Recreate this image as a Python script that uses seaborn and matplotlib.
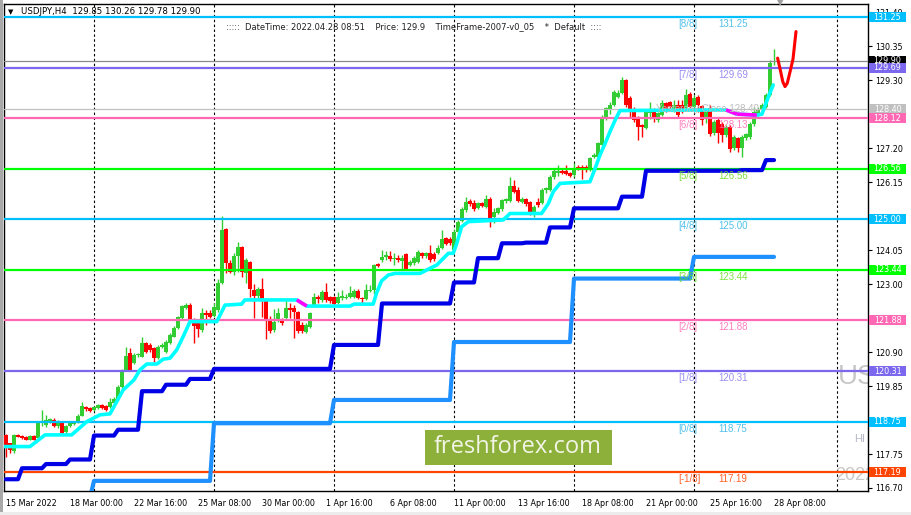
import numpy as np
import pandas as pd
import matplotlib
matplotlib.use("Agg")
import matplotlib.pyplot as plt
from matplotlib.patches import Rectangle
from matplotlib.transforms import blended_transform_factory
import seaborn as sns

# --- Chart data (USDJPY H4) ---
FIRST_BAR = "2022-03-15 08:00"
LAST_BAR = "2022-04-28 08:00"

opens = [
    118.34, 118.08, 117.83, 118.33, 118.31, 118.29, 118.19, 118.31, 118.24, 118.70,
    118.65, 118.75, 118.80, 118.60, 118.72, 118.44, 118.60, 118.68, 118.74, 118.93,
    119.20, 119.16, 119.11, 119.16, 119.26, 119.24, 119.20, 119.34, 119.44, 119.81,
    120.35, 120.86, 120.55, 120.80, 120.76, 121.17, 121.12, 121.02, 120.71, 121.05,
    120.91, 121.17, 121.38, 121.64, 121.94, 122.25, 122.36, 121.91, 121.84,
    121.58, 122.12, 122.12, 122.01, 122.20, 123.02, 124.69, 123.64, 123.38, 123.87,
    124.16, 123.33, 123.69, 122.82, 122.63, 122.84, 122.53, 121.89, 121.58, 121.87,
    121.89, 121.94, 122.25, 122.25, 122.15, 121.74, 121.53, 121.66, 122.35, 122.59,
    122.51, 122.77, 122.59, 122.59, 122.40, 122.56, 122.56, 122.59, 122.59, 122.79,
    122.56, 122.53, 122.79, 122.82, 123.62, 123.74, 123.85, 123.87, 123.76,
    123.82, 123.72, 123.93, 123.59, 123.64, 123.69, 123.97, 123.87, 123.95, 123.93,
    123.95, 124.10, 124.41, 124.38, 124.05, 124.62, 124.96, 125.29, 125.57, 125.51,
    125.34, 125.51, 125.37, 125.62, 125.06, 125.20, 125.31, 125.57, 125.57, 126.03,
    125.92, 125.54, 125.62, 125.54, 125.20, 125.54, 125.49, 125.90, 125.92, 126.30,
    126.42, 126.50, 126.50, 126.44, 126.37, 126.63, 126.63, 126.63, 126.52,
    126.94, 126.94, 127.30, 128.17, 128.38, 128.53, 128.77, 128.89, 129.30, 128.74,
    128.38, 128.15, 127.91, 127.81, 128.30, 128.38, 128.07, 128.22, 128.58, 128.63,
    128.38, 128.53, 128.53, 128.43, 128.87, 128.48, 128.77, 128.50, 128.12, 128.43,
    127.66, 128.07, 127.96, 127.61, 127.86, 127.19, 127.50, 127.19, 127.50, 127.55,
    127.94, 128.25, 128.38, 128.48, 128.84, 129.85,
]
highs = [
    118.37, 118.10, 118.37, 118.37, 118.34, 118.32, 118.34, 118.35, 118.72, 119.11,
    118.96, 118.86, 118.86, 118.80, 118.75, 118.65, 118.72, 118.77, 118.99, 119.37,
    119.24, 119.20, 119.24, 119.29, 119.29, 119.27, 119.47, 119.50, 119.89, 120.37,
    121.05, 121.02, 120.86, 120.86, 121.38, 121.22, 121.17, 121.05, 121.12, 121.17,
    121.28, 121.48, 121.71, 122.02, 122.36, 122.41, 122.43, 121.94, 121.89,
    122.25, 122.20, 122.20, 122.43, 123.15, 125.10, 124.72, 123.74, 123.97, 124.31,
    124.18, 123.79, 123.72, 123.00, 122.92, 123.18, 122.56, 122.01, 122.22, 122.25,
    121.94, 122.51, 122.40, 122.35, 122.18, 121.84, 121.79, 122.15, 122.71, 122.66,
    122.82, 123.02, 122.63, 122.63, 122.76, 122.82, 122.69, 122.94, 122.84, 122.84,
    122.61, 123.00, 122.97, 123.62, 123.66, 124.05, 124.03, 124.03, 123.97,
    123.90, 123.90, 123.97, 123.74, 123.87, 124.05, 124.00, 124.00, 124.21, 124.00,
    124.21, 124.67, 124.46, 124.44, 124.69, 124.98, 125.37, 125.70, 125.62, 125.60,
    125.54, 125.54, 125.75, 125.70, 125.34, 125.39, 125.62, 125.65, 126.32, 126.21,
    125.99, 125.70, 125.65, 125.57, 125.44, 125.65, 125.96, 126.01, 126.37, 126.54,
    126.68, 126.54, 126.68, 126.47, 126.75, 126.68, 126.68, 126.68, 126.93,
    127.04, 127.40, 128.22, 128.48, 128.63, 129.00, 129.00, 129.41, 129.32, 128.81,
    128.48, 128.19, 127.95, 128.36, 128.63, 128.43, 128.33, 128.69, 128.63, 128.67,
    128.69, 128.69, 128.69, 129.02, 128.94, 128.84, 128.84, 128.53, 128.40, 128.53,
    128.07, 128.17, 128.02, 127.91, 127.91, 127.61, 127.55, 127.61, 127.66, 128.02,
    128.48, 128.48, 128.58, 128.89, 129.92, 130.26,
]
lows = [
    117.67, 117.77, 117.79, 118.26, 118.21, 118.17, 118.17, 118.17, 118.22, 118.60,
    118.58, 118.70, 118.57, 118.55, 118.37, 118.41, 118.58, 118.65, 118.72, 118.91,
    119.09, 119.06, 119.09, 119.14, 119.13, 119.08, 119.16, 119.32, 119.42, 119.78,
    120.33, 120.30, 120.53, 120.76, 120.74, 120.88, 120.91, 120.58, 120.69, 121.02,
    120.88, 121.15, 121.36, 121.60, 121.91, 122.22, 121.84, 121.17, 121.38,
    121.53, 121.74, 121.94, 121.99, 122.15, 123.00, 123.35, 123.35, 123.28, 123.38,
    123.23, 123.04, 122.59, 121.94, 122.53, 121.97, 121.29, 121.48, 121.53, 121.84,
    121.74, 121.89, 121.94, 121.32, 121.48, 121.48, 121.50, 121.63, 122.30, 122.42,
    122.46, 122.46, 122.40, 122.35, 122.38, 122.51, 122.53, 122.56, 122.56, 122.53,
    122.40, 122.51, 122.76, 122.69, 123.52, 123.69, 123.74, 123.72, 123.59,
    123.69, 123.48, 123.45, 123.56, 123.59, 123.64, 123.82, 123.82, 123.69, 123.72,
    123.93, 124.07, 124.21, 124.21, 124.03, 124.57, 124.93, 125.23, 125.41, 125.27,
    125.31, 125.37, 125.34, 124.75, 124.90, 125.16, 125.27, 125.49, 125.54, 125.82,
    125.54, 125.49, 125.41, 125.13, 125.08, 125.37, 125.47, 125.82, 125.88, 126.26,
    126.34, 126.40, 126.37, 126.30, 126.32, 126.52, 126.26, 126.47, 126.50,
    126.88, 126.88, 127.27, 128.07, 128.25, 128.50, 128.74, 128.87, 128.48, 128.12,
    128.02, 127.45, 127.55, 127.78, 128.09, 128.02, 128.02, 128.19, 128.33, 128.38,
    128.33, 128.15, 128.27, 128.38, 128.43, 128.38, 128.33, 127.91, 127.97, 127.57,
    127.61, 127.35, 127.40, 127.55, 127.09, 127.14, 127.09, 126.94, 127.45, 127.47,
    127.88, 128.19, 128.33, 128.43, 128.81, 129.78,
]
closes = [
    117.98, 117.86, 118.34, 118.29, 118.24, 118.19, 118.31, 118.19, 118.70, 118.75,
    118.80, 118.82, 118.60, 118.72, 118.41, 118.60, 118.70, 118.74, 118.93, 119.22,
    119.14, 119.09, 119.20, 119.26, 119.16, 119.11, 119.37, 119.46, 119.83, 120.33,
    120.78, 120.35, 120.81, 120.82, 121.17, 120.91, 120.97, 120.71, 121.07, 121.12,
    121.22, 121.43, 121.64, 121.98, 122.31, 122.36, 121.89, 121.69, 121.60,
    122.12, 122.04, 121.97, 122.30, 123.02, 124.67, 123.64, 123.38, 123.87, 124.13,
    123.38, 123.74, 122.84, 122.63, 122.84, 122.53, 121.89, 121.56, 121.84, 122.10,
    121.79, 122.25, 122.20, 122.15, 121.56, 121.56, 121.74, 122.10, 122.59, 122.53,
    122.77, 122.51, 122.49, 122.38, 122.59, 122.63, 122.61, 122.71, 122.79, 122.56,
    122.53, 122.82, 122.82, 123.59, 123.56, 123.85, 123.90, 123.76, 123.79,
    123.74, 123.79, 123.48, 123.69, 123.82, 124.00, 123.87, 123.95, 123.74, 123.76,
    124.10, 124.38, 124.24, 124.26, 124.62, 124.93, 125.31, 125.54, 125.47, 125.31,
    125.49, 125.41, 125.62, 124.93, 125.23, 125.34, 125.60, 125.62, 126.03, 125.85,
    125.57, 125.62, 125.47, 125.20, 125.39, 125.44, 125.90, 125.96, 126.32, 126.50,
    126.50, 126.44, 126.40, 126.34, 126.52, 126.60, 126.58, 126.52, 126.88,
    126.99, 127.35, 128.17, 128.43, 128.53, 128.94, 128.91, 129.30, 128.53, 128.38,
    128.07, 127.86, 127.84, 128.33, 128.38, 128.12, 128.27, 128.58, 128.38, 128.48,
    128.53, 128.22, 128.33, 128.84, 128.48, 128.74, 128.53, 128.07, 128.36, 127.64,
    128.02, 127.66, 127.61, 127.86, 127.16, 127.55, 127.19, 127.55, 127.64, 127.96,
    128.33, 128.38, 128.53, 128.84, 129.82, 129.90,
]

# Murrey Math lines
mm_names = ["[-1/8]", "[0/8]", "[1/8]", "[2/8]", "[3/8]", "[4/8]", "[5/8]", "[6/8]", "[7/8]", "[8/8]"]
mm_levels = [117.19, 118.75, 120.31, 121.88, 123.44, 125.00, 126.56, 128.12, 129.69, 131.25]
mm_texts = ["117.19", "118.75", "120.31", "121.88", "123.44", "125.00", "126.56", "128.13", "129.69", "131.25"]
mm_colors = ["#FF4500", "#00BFFF", "#7B68EE", "#FF69B4", "#00FF00",
             "#00BFFF", "#00FF00", "#FF69B4", "#7B68EE", "#00BFFF"]
mm_text_colors = ["#FF4500", "#33B5E5", "#8A7BEE", "#FF69B4", "#66DD22",
                  "#33B5E5", "#66DD22", "#FF69B4", "#8A7BEE", "#33B5E5"]

BID = 129.90
YESTERDAY_CLOSE = 128.40

# daily support line (dark blue), one value per trading day
support_days = [116.97, 117.31, 117.44, 117.58, 118.32, 118.50, 119.69, 119.89, 120.07,
                120.38, 120.38, 120.38, 120.38, 120.38, 121.12, 121.12, 122.40, 122.40,
                122.40, 123.05, 123.80, 124.26, 124.28, 124.75, 125.34, 125.34, 125.70,
                126.50, 126.50, 126.50, 126.50, 126.52, 126.83]

# weekly support line (dodger blue)
week_starts = ["2022-03-14", "2022-03-21", "2022-03-28", "2022-04-04",
               "2022-04-11", "2022-04-18", "2022-04-25"]
week_levels = [116.40, 116.92, 118.70, 119.42, 121.21, 123.17, 123.84]

# trailing line (aqua, magenta while falling)
trail_bars = [0.5, 7, 10.75, 17.4, 21.2, 24.5, 27, 30.3, 33, 34.5, 36.2, 38.7, 40.3, 42,
              43.7, 45.3, 47, 53.7, 55.75, 59.9, 60.7, 73.7, 76.2, 87, 88, 92.8, 93.6,
              94.9, 96.6, 98.3, 104.5, 108.7, 111.6, 112.8, 113.7, 114.9, 116.6, 125.3,
              127, 134.9, 136.6, 137.8, 139.5, 147, 148.3, 149.5, 150.8, 152, 153.3,
              154.5, 181, 183.7, 188.7, 190, 191.6, 192.8]
trail_values = [117.98, 117.98, 118.34, 118.34, 118.75, 118.96, 118.99, 119.73, 120.04,
                120.35, 120.53, 120.53, 120.68, 120.71, 120.97, 121.38, 121.84, 121.84,
                122.35, 122.38, 122.51, 122.51, 122.32, 122.32, 122.38, 122.38, 122.71,
                123.10, 123.28, 123.33, 123.33, 123.59, 123.95, 123.95, 124.26, 124.77,
                124.93, 124.98, 125.18, 125.18, 125.49, 125.85, 126.11, 126.16, 126.58,
                126.99, 127.35, 127.71, 128.07, 128.36, 128.38, 128.25, 128.22, 128.25,
                128.79, 129.15]

# forecast curve (red)
forecast_bars = [193.9, 194.6, 195.2, 195.75, 196.3, 197.0, 197.75, 198.5]
forecast_values = [129.98, 129.60, 129.25, 129.10, 129.20, 129.55, 129.95, 130.80]

x_tick_times = ["2022-03-15 08:00", "2022-03-18 00:00", "2022-03-22 16:00", "2022-03-25 08:00",
                "2022-03-30 00:00", "2022-04-01 16:00", "2022-04-06 08:00", "2022-04-11 00:00",
                "2022-04-13 16:00", "2022-04-18 08:00", "2022-04-21 00:00", "2022-04-25 16:00",
                "2022-04-28 08:00"]
y_ticks = [116.70, 117.75, 119.85, 120.90, 123.00, 124.05, 126.15, 127.20, 129.30, 130.35, 131.40]

# --- Style ---
sns.set_theme(style="white")
plt.rcParams["font.family"] = ["DejaVu Sans"]
AXIS_FS = 5.8

W, H = 911, 515
fig = plt.figure(figsize=(W / 100, H / 100), dpi=100)
fig.patch.set_facecolor("white")
ax = fig.add_axes([4 / W, 24 / H, 864 / W, 487 / H])
ax.set_facecolor("white")

# --- Bar timeline ---
days = pd.bdate_range("2022-03-15", "2022-04-28")
times = pd.DatetimeIndex([d + pd.Timedelta(hours=h) for d in days for h in range(0, 24, 4)])
times = times[(times >= FIRST_BAR) & (times <= LAST_BAR)]
bars = np.arange(1, len(times) + 1)

o = np.array(opens)
h = np.array(highs)
l = np.array(lows)
c = np.array(closes)

# week separators (Monday 00:00), plus the one in the empty right margin
mondays = [times.get_loc(d) + 1 for d in pd.date_range("2022-03-21", "2022-04-25", freq="7D")]
for pos in mondays + [208.75]:
    ax.axvline(pos, color="black", lw=0.8, dashes=(2.2, 2.2), zorder=1)

# --- Candles ---
up = c >= o
cols = np.where(up, "#32CD32", "#FF0000")
ax.vlines(bars, l, h, colors=cols, lw=1.0, zorder=3)
body = np.maximum(np.abs(c - o), 0.03)
ax.bar(bars, body, bottom=np.minimum(o, c), width=0.8, color=cols, linewidth=0, zorder=3)

# --- Horizontal levels ---
for lvl, col in zip(mm_levels, mm_colors):
    ax.axhline(lvl, color=col, lw=1.6, zorder=4)
ax.axhline(BID, color="#8a8a8a", lw=0.9, zorder=4)
ax.axhline(YESTERDAY_CLOSE, color="#c0c0c0", lw=0.9, zorder=4)

for name, txt, lvl, col in zip(mm_names, mm_texts, mm_levels, mm_text_colors):
    ax.annotate(name, (169.0, lvl), xytext=(0, -1.5), textcoords="offset points",
                ha="left", va="top", fontsize=7, color=col, family="Liberation Sans",
                alpha=0.85, zorder=6)
    ax.annotate(txt, (179.2, lvl), xytext=(0, -1.5), textcoords="offset points",
                ha="left", va="top", fontsize=7, color=col, family="Liberation Sans",
                alpha=0.85, zorder=6)

ax.text(163.5, YESTERDAY_CLOSE, "Yesterday Close 128.40", fontsize=7, color="#bdbdbd",
        family="Liberation Sans", ha="left", va="center", zorder=6)

# --- Indicator lines ---
day_pos = days.get_indexer(times.normalize())
support = np.array(support_days)[day_pos]
week_pos = np.searchsorted(pd.to_datetime(week_starts), times, side="right") - 1
weekly = np.array(week_levels)[week_pos]

sns.lineplot(x=bars, y=weekly, ax=ax, color="#1E90FF", linewidth=3.0, estimator=None,
             sort=False, legend=False, zorder=5)
sns.lineplot(x=bars, y=support, ax=ax, color="#0000E6", linewidth=3.0, estimator=None,
             sort=False, legend=False, zorder=5)

tb = np.array(trail_bars)
tv = np.array(trail_values)
sns.lineplot(x=tb, y=tv, ax=ax, color="#00FFFF", linewidth=2.6, estimator=None,
             sort=False, legend=False, zorder=5)
for i in range(len(tb) - 1):
    if tv[i + 1] < tv[i] - 0.005:
        ax.plot(tb[i:i + 2], tv[i:i + 2], color="#FF00FF", lw=2.6, zorder=5.1,
                solid_capstyle="butt")

sns.lineplot(x=forecast_bars, y=forecast_values, ax=ax, color="#FF0000", linewidth=2.2,
             estimator=None, sort=False, legend=False, zorder=5)

# --- Watermark bits at the right edge (clipped by the frame) ---
ax.text(209.0, 120.13, "US", fontsize=20, color="#c8c8c8", family="Liberation Sans",
        ha="left", va="center", clip_on=True, zorder=2)
ax.text(213.0, 118.20, "HI", fontsize=8, color="#b8b8c8", family="Liberation Sans",
        ha="left", va="center", clip_on=True, zorder=2)
ax.text(208.3, 117.10, "2022", fontsize=13, color="#c8c8c8", family="Liberation Sans",
        ha="left", va="center", clip_on=True, zorder=2)

# --- Axes ---
ax.set_xlim(0.5, 216.5)
ax.set_ylim(116.607, 131.652)
tick_ts = pd.to_datetime(x_tick_times)
tick_pos = [times.get_loc(t) + 1 for t in tick_ts]
tick_lab = [f"{tick_ts[0].day} {tick_ts[0].strftime('%b %Y')}"] + \
           [f"{t.day} {t.strftime('%b %H:%M')}" for t in tick_ts[1:]]
ax.set_xticks(tick_pos, tick_lab)
for lab in ax.get_xticklabels():
    lab.set_ha("left")
ax.yaxis.tick_right()
ax.set_yticks(y_ticks, [f"{v:.2f}" for v in y_ticks])
ax.tick_params(axis="both", labelsize=AXIS_FS, colors="black", length=3, width=0.8,
               direction="out", pad=2)
ax.tick_params(axis="x", pad=3)
for s in ax.spines.values():
    s.set_color("black")
    s.set_linewidth(1.0)
ax.set_xlabel("")
ax.set_ylabel("")
ax.grid(False)

# --- Price boxes on the right scale ---
box_levels = [131.25, BID, 129.69, YESTERDAY_CLOSE, 128.12, 126.56, 125.00, 123.44,
              121.88, 120.31, 118.75, 117.19]
box_colors = ["#00BFFF", "#000000", "#7B68EE", "#C0C0C0", "#FF69B4", "#00FF00",
              "#00BFFF", "#00FF00", "#FF69B4", "#7B68EE", "#00BFFF", "#FF4500"]
trans = blended_transform_factory(ax.transAxes, ax.transData)
box_h = 10 / 32.37
for lvl, col in zip(box_levels, box_colors):
    ax.add_patch(Rectangle((1 + 1 / 864, lvl - box_h / 2), 37 / 864, box_h, transform=trans,
                           facecolor=col, edgecolor="none", clip_on=False, zorder=10))
    ax.text(1 + 19.5 / 864, lvl, f"{lvl:.2f}", transform=trans, color="white",
            fontsize=AXIS_FS, ha="center", va="center", clip_on=False, zorder=11)

# --- Header texts ---
fig.text(11 / W, 1 - 12 / H, "\u25BC", fontsize=5, color="black", ha="center", va="center")
fig.text(21 / W, 1 - 12 / H, "USDJPY,H4  129.85 130.26 129.78 129.90", fontsize=6.2,
         color="black", ha="left", va="center")
fig.text(226 / W, 1 - 27 / H,
         ":::::  DateTime: 2022.04.28 08:51    Price: 129.9    TimeFrame-2007-v0_05    *  Default  ::::",
         fontsize=6.0, color="#202020", ha="left", va="center")
fig.text(780 / W, 1 - 3 / H, "\u25BC", fontsize=6, color="#a0a0a0", ha="center", va="center")

# window edges
fig.add_artist(Rectangle((0, 0), 2.5 / W, 1, transform=fig.transFigure,
                         facecolor="#a8a8a8", edgecolor="none", zorder=0))
fig.add_artist(Rectangle((0, 0), 1, 3 / H, transform=fig.transFigure,
                         facecolor="#ececec", edgecolor="none", zorder=0))

# --- freshforex badge ---
fig.add_artist(Rectangle((425 / W, 1 - 465 / H), 187 / W, 35 / H, transform=fig.transFigure,
                         facecolor="#8DB03B", edgecolor="none", zorder=20))
fig.text(518 / W, 1 - 447 / H, "freshforex.com", fontsize=17, color="#F2F5E6",
         family="Open Sans", ha="center", va="center", zorder=21)

fig.savefig("out.png", dpi=100, facecolor="white")
